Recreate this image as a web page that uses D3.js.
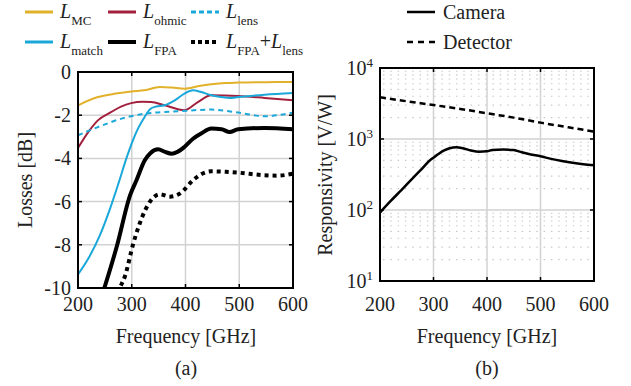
<!DOCTYPE html>
<html>
<head>
<meta charset="utf-8">
<script src="https://cdn.jsdelivr.net/npm/d3@7"></script>
<style>
  body { margin: 0; background: #fff; }
  svg { display: block; font-family: 'Liberation Serif', 'Times New Roman', serif; }
  .tick-label { font-size: 20px; fill: #222; }
</style>
</head>
<body>
<div id="chart"></div>
<script>
// ---- data ----
const freqTicks = [200, 300, 400, 500, 600];
const lossTicks = [0, -2, -4, -6, -8, -10];
const respTicks = [10, 100, 1000, 10000];

const lossMC = [[200,-1.54],[237,-1.16],[270,-1.0],[299,-0.9],[324,-0.85],[352,-0.69],[375,-0.72],
  [398,-0.77],[425,-0.65],[448,-0.57],[475,-0.51],[498,-0.49],[550,-0.47],[600,-0.46]];
const lossOhmic = [[200,-3.52],[220,-2.75],[237,-2.24],[262,-1.85],[280,-1.6],[299,-1.44],[320,-1.38],
  [336,-1.39],[361,-1.54],[398,-1.77],[423,-1.39],[448,-1.08],[498,-1.11],[547,-1.2],[600,-1.31]];
const lossLens = [[200,-2.93],[237,-2.55],[281,-2.16],[324,-1.93],[386,-1.82],[448,-1.74],[498,-1.88],
  [547,-2.05],[572,-2.0],[600,-1.88]];
const lossMatch = [[200,-9.37],[220,-8.6],[240,-7.6],[260,-6.3],[276,-5.1],[290,-4.0],[300,-3.3],
  [312,-2.6],[324,-2.08],[335,-1.7],[345,-1.6],[361,-1.54],[380,-1.31],[398,-1.0],[414,-0.85],
  [429,-0.93],[448,-1.08],[470,-1.17],[482,-1.2],[498,-1.16],[547,-1.05],[600,-0.97]];
const lossFPA = [[240,-10.7],[249,-10],[272,-8.09],[297,-5.7],[309,-5.0],[324,-4.1],[335,-3.75],
  [349,-3.58],[362,-3.7],[374,-3.78],[385,-3.7],[398,-3.47],[414,-3.09],[429,-2.85],[448,-2.62],
  [467,-2.65],[482,-2.78],[498,-2.65],[547,-2.59],[600,-2.65]];
const lossFPALens = [[270,-10.6],[278,-10],[287,-9.48],[303,-7.93],[315,-7.0],[334,-6.0],[352,-5.66],
  [371,-5.77],[390,-5.62],[414,-5.01],[430,-4.72],[448,-4.6],[475,-4.62],[498,-4.66],[547,-4.78],
  [570,-4.8],[600,-4.71]];

const respCamera = [[200,92],[220,134],[240,191],[260,274],[280,393],[295,514],[300,545],[310,620],
  [320,690],[330,740],[343,765],[355,740],[370,690],[385,662],[400,672],[410,700],[430,710],
  [450,700],[465,650],[480,610],[500,570],[520,525],[540,490],[560,462],[580,442],[600,428]];
const respDetector = [[200,3870],[250,3400],[300,3010],[350,2650],[400,2300],[450,2000],
  [500,1700],[550,1470],[600,1270]];

const width = 631, height = 386;

const svg = d3.select('#chart').append('svg')
    .attr('width', width)
    .attr('height', height);

const gridColor = '#d2d2d2';

// ---- panel (a) ----
const xA = d3.scaleLinear().domain([200, 600]).range([78, 293]),
      yA = d3.scaleLinear().domain([-10, 0]).range([288, 72]);

svg.append('defs').append('clipPath').attr('id', 'clipA')
  .append('rect')
    .attr('x', xA(200)).attr('y', yA(0))
    .attr('width', xA(600) - xA(200)).attr('height', yA(-10) - yA(0));

const panelA = svg.append('g');

panelA.append('g').selectAll('line')
    .data([300, 400, 500])
  .enter().append('line')
    .attr('x1', d => xA(d)).attr('x2', d => xA(d))
    .attr('y1', yA(0)).attr('y2', yA(-10))
    .attr('stroke', gridColor).attr('stroke-width', 1.5);

panelA.append('g').selectAll('line')
    .data([-2, -4, -6, -8])
  .enter().append('line')
    .attr('x1', xA(200)).attr('x2', xA(600))
    .attr('y1', d => yA(d)).attr('y2', d => yA(d))
    .attr('stroke', gridColor).attr('stroke-width', 1.5);

const lineA = d3.line()
    .x(d => xA(d[0]))
    .y(d => yA(d[1]))
    .curve(d3.curveMonotoneX);

const seriesA = [
  {data: lossMC, color: '#e2b12a', width: 2, dash: null},
  {data: lossOhmic, color: '#a3203d', width: 2, dash: null},
  {data: lossLens, color: '#1aa7d9', width: 2, dash: '5,4'},
  {data: lossMatch, color: '#1aa7d9', width: 2, dash: null},
  {data: lossFPA, color: '#000', width: 4, dash: null},
  {data: lossFPALens, color: '#000', width: 4, dash: '4,4'}
];

const linesA = panelA.append('g').attr('clip-path', 'url(#clipA)');
seriesA.forEach(function(s) {
  linesA.append('path')
      .datum(s.data)
      .attr('fill', 'none')
      .attr('stroke', s.color)
      .attr('stroke-width', s.width)
      .attr('stroke-dasharray', s.dash)
      .attr('d', lineA);
});

// ticks (inward, all sides)
[300, 400, 500].forEach(function(t) {
  panelA.append('line').attr('x1', xA(t)).attr('x2', xA(t)).attr('y1', yA(-10)).attr('y2', yA(-10) - 4)
      .attr('stroke', '#000').attr('stroke-width', 1.5);
  panelA.append('line').attr('x1', xA(t)).attr('x2', xA(t)).attr('y1', yA(0)).attr('y2', yA(0) + 4)
      .attr('stroke', '#000').attr('stroke-width', 1.5);
});
[-2, -4, -6, -8].forEach(function(t) {
  panelA.append('line').attr('x1', xA(200)).attr('x2', xA(200) + 4).attr('y1', yA(t)).attr('y2', yA(t))
      .attr('stroke', '#000').attr('stroke-width', 1.5);
  panelA.append('line').attr('x1', xA(600)).attr('x2', xA(600) - 4).attr('y1', yA(t)).attr('y2', yA(t))
      .attr('stroke', '#000').attr('stroke-width', 1.5);
});

panelA.append('rect')
    .attr('x', xA(200)).attr('y', yA(0))
    .attr('width', xA(600) - xA(200)).attr('height', yA(-10) - yA(0))
    .attr('fill', 'none').attr('stroke', '#000').attr('stroke-width', 2);

panelA.append('g').selectAll('text')
    .data(freqTicks)
  .enter().append('text')
    .attr('class', 'tick-label')
    .attr('x', d => xA(d)).attr('y', 311)
    .attr('text-anchor', 'middle')
    .text(d => d);

panelA.append('g').selectAll('text')
    .data(lossTicks)
  .enter().append('text')
    .attr('class', 'tick-label')
    .attr('x', 71).attr('y', d => yA(d) + 7)
    .attr('text-anchor', 'end')
    .text(d => d === 0 ? '0' : '-' + Math.abs(d));

panelA.append('text')
    .attr('class', 'tick-label')
    .attr('x', 186).attr('y', 343)
    .attr('text-anchor', 'middle')
    .text('Frequency [GHz]');

panelA.append('text')
    .attr('class', 'tick-label')
    .attr('transform', 'translate(32,180) rotate(-90)')
    .attr('text-anchor', 'middle')
    .text('Losses [dB]');

panelA.append('text')
    .attr('class', 'tick-label')
    .attr('x', 186).attr('y', 375)
    .attr('text-anchor', 'middle')
    .text('(a)');

// legend (a)
const legendA = [
  {s: seriesA[0], sub: 'MC', x: 25, y: 12},
  {s: seriesA[1], sub: 'ohmic', x: 108, y: 12},
  {s: seriesA[2], sub: 'lens', x: 191, y: 12},
  {s: seriesA[3], sub: 'match', x: 25, y: 42},
  {s: seriesA[4], sub: 'FPA', x: 108, y: 42},
  {s: seriesA[5], sub: 'FPA', x: 191, y: 42, extra: 'lens'}
];
legendA.forEach(function(d) {
  panelA.append('line')
      .attr('x1', d.x).attr('x2', d.x + 28)
      .attr('y1', d.y).attr('y2', d.y)
      .attr('stroke', d.s.color)
      .attr('stroke-width', d.s.width === 4 ? 4 : 3)
      .attr('stroke-dasharray', d.s.dash === '5,4' ? '5,3' : (d.s.dash ? '4,3' : null));
  const t = panelA.append('text')
      .attr('class', 'tick-label')
      .attr('x', d.x + 35).attr('y', d.y + 6);
  t.append('tspan').style('font-style', 'italic').text('L');
  t.append('tspan').attr('dy', 7).style('font-size', '13px').text(d.sub);
  if (d.extra) {
    t.append('tspan').attr('dy', -7).text('+');
    t.append('tspan').style('font-style', 'italic').text('L');
    t.append('tspan').attr('dy', 7).style('font-size', '13px').text(d.extra);
  }
});

// ---- panel (b) ----
const xB = d3.scaleLinear().domain([200, 600]).range([380, 594]),
      yB = d3.scaleLog().domain([10, 10000]).range([281, 68]);

const panelB = svg.append('g');

// minor grid (dotted) at 2..9 x decade
const minorVals = [];
[10, 100, 1000].forEach(function(dec) {
  for (let k = 2; k <= 9; k++) minorVals.push(dec * k);
});
panelB.append('g').selectAll('line')
    .data(minorVals)
  .enter().append('line')
    .attr('x1', xB(200) + 3).attr('x2', xB(600))
    .attr('y1', d => yB(d)).attr('y2', d => yB(d))
    .attr('stroke', '#c8c8c8').attr('stroke-width', 1.2)
    .attr('stroke-dasharray', '1.5,5.8');

panelB.append('g').selectAll('line')
    .data([300, 400, 500])
  .enter().append('line')
    .attr('x1', d => xB(d)).attr('x2', d => xB(d))
    .attr('y1', yB(10000)).attr('y2', yB(10))
    .attr('stroke', gridColor).attr('stroke-width', 1.5);

panelB.append('g').selectAll('line')
    .data([100, 1000])
  .enter().append('line')
    .attr('x1', xB(200)).attr('x2', xB(600))
    .attr('y1', d => yB(d)).attr('y2', d => yB(d))
    .attr('stroke', gridColor).attr('stroke-width', 1.5);

const lineB = d3.line()
    .x(d => xB(d[0]))
    .y(d => yB(d[1]))
    .curve(d3.curveMonotoneX);

panelB.append('path')
    .datum(respDetector)
    .attr('fill', 'none').attr('stroke', '#000').attr('stroke-width', 2.5)
    .attr('stroke-dasharray', '6,4')
    .attr('d', lineB);

panelB.append('path')
    .datum(respCamera)
    .attr('fill', 'none').attr('stroke', '#000').attr('stroke-width', 2.5)
    .attr('d', lineB);

[300, 400, 500].forEach(function(t) {
  panelB.append('line').attr('x1', xB(t)).attr('x2', xB(t)).attr('y1', yB(10)).attr('y2', yB(10) - 4)
      .attr('stroke', '#000').attr('stroke-width', 1.5);
  panelB.append('line').attr('x1', xB(t)).attr('x2', xB(t)).attr('y1', yB(10000)).attr('y2', yB(10000) + 4)
      .attr('stroke', '#000').attr('stroke-width', 1.5);
});
[100, 1000].forEach(function(t) {
  panelB.append('line').attr('x1', xB(200)).attr('x2', xB(200) + 4).attr('y1', yB(t)).attr('y2', yB(t))
      .attr('stroke', '#000').attr('stroke-width', 1.5);
  panelB.append('line').attr('x1', xB(600)).attr('x2', xB(600) - 4).attr('y1', yB(t)).attr('y2', yB(t))
      .attr('stroke', '#000').attr('stroke-width', 1.5);
});

panelB.append('rect')
    .attr('x', xB(200)).attr('y', yB(10000))
    .attr('width', xB(600) - xB(200)).attr('height', yB(10) - yB(10000))
    .attr('fill', 'none').attr('stroke', '#000').attr('stroke-width', 2);

panelB.append('g').selectAll('text')
    .data(freqTicks)
  .enter().append('text')
    .attr('class', 'tick-label')
    .attr('x', d => xB(d)).attr('y', 311)
    .attr('text-anchor', 'middle')
    .text(d => d);

respTicks.forEach(function(d) {
  const t = panelB.append('text')
      .attr('class', 'tick-label')
      .attr('x', 373).attr('y', yB(d) + 7)
      .attr('text-anchor', 'end');
  t.append('tspan').text('10');
  t.append('tspan').attr('dy', -8).style('font-size', '13px').text(Math.round(Math.log10(d)));
});

panelB.append('text')
    .attr('class', 'tick-label')
    .attr('x', 487).attr('y', 343)
    .attr('text-anchor', 'middle')
    .text('Frequency [GHz]');

panelB.append('text')
    .attr('class', 'tick-label')
    .attr('transform', 'translate(332,175) rotate(-90)')
    .attr('text-anchor', 'middle')
    .text('Responsivity [V/W]');

panelB.append('text')
    .attr('class', 'tick-label')
    .attr('x', 487).attr('y', 375)
    .attr('text-anchor', 'middle')
    .text('(b)');

// legend (b)
[{name: 'Camera', dash: null, y: 12}, {name: 'Detector', dash: '6,5', y: 42}].forEach(function(d) {
  panelB.append('line')
      .attr('x1', 407).attr('x2', 435)
      .attr('y1', d.y).attr('y2', d.y)
      .attr('stroke', '#000').attr('stroke-width', 2.5)
      .attr('stroke-dasharray', d.dash);
  panelB.append('text')
      .attr('class', 'tick-label')
      .attr('x', 443).attr('y', d.y + 7)
      .text(d.name);
});
</script>
</body>
</html>
